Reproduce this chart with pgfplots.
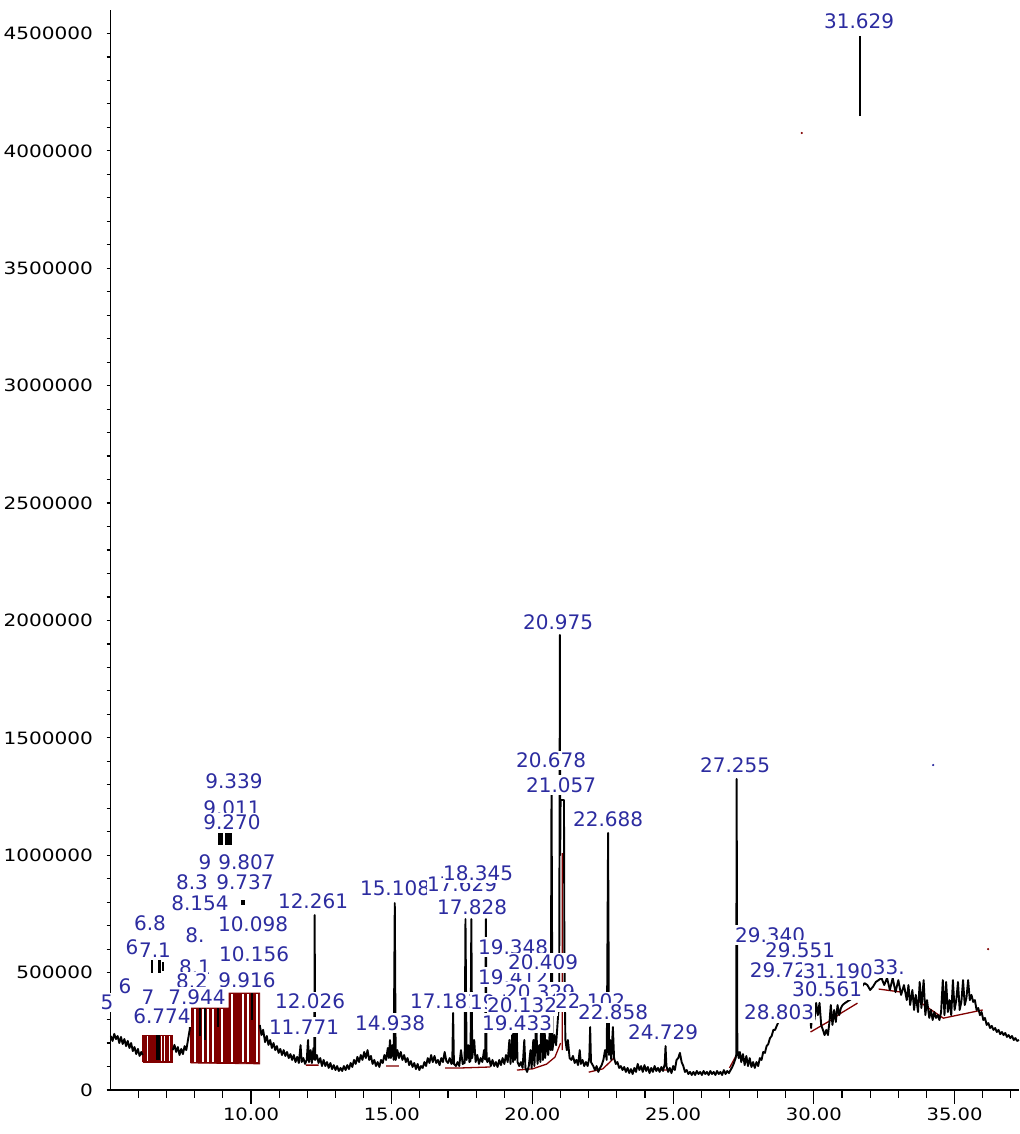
\documentclass[border=0pt]{standalone}
\usepackage{fontspec}
\setmainfont{DejaVu Sans}
\usepackage{pgfplots}
\pgfplotsset{compat=1.18}
\definecolor{peakblue}{RGB}{44,44,160}
\definecolor{intred}{RGB}{128,0,0}
\tikzset{lab/.style={fill=white, text=peakblue, inner xsep=0.5pt, inner ysep=2pt,
  text height=14.6pt, text depth=0.6pt, font=\fontsize{20}{20}\selectfont}}
\newcommand{\pk}[3]{\node[lab] at (axis cs:#1,#2) {#3};}

\begin{document}
\begin{tikzpicture}
\begin{axis}[
  name=ax, scale only axis, width=908.5pt, height=1080pt,
  xmin=5.007, xmax=37.29, ymin=0, ymax=4600000,
  axis x line=bottom, axis y line=left,
  axis line style={line width=1.6pt, -},
  clip=false, unbounded coords=jump,
  tick align=outside,
  xtick={10,15,20,25,30,35},
  minor xtick={6,7,8,9,11,12,13,14,16,17,18,19,21,22,23,24,26,27,28,29,31,32,33,34,36,37},
  ytick={0,500000,1000000,1500000,2000000,2500000,3000000,3500000,4000000,4500000},
  minor y tick num=4,
  scaled y ticks=false,
  major tick length=14pt, minor tick length=8pt,
  every major y tick/.append style={/pgfplots/major tick length=4pt},
  every minor y tick/.append style={/pgfplots/minor tick length=4pt},
  tick style={line width=1.2pt, black},
  xticklabel={\scalebox{1.15}[1]{\pgfmathprintnumber[fixed,fixed zerofill,precision=2,assume math mode=true]{\tick}}},
  yticklabel={\scalebox{1.18}[1]{\pgfmathprintnumber[fixed,precision=0,1000 sep={},assume math mode=true]{\tick}}},
  ticklabel style={font=\fontsize{17}{17}\selectfont, text=black},
]
% integrated areas
\addplot[fill=intred, draw=intred, line width=0.8pt] coordinates {
  (6.15,119000) (6.15,234000) (7.22,234000) (7.22,119000) (6.15,119000)};
\addplot[fill=intred, draw=intred, line width=0.8pt] coordinates {
  (7.85,115000) (7.85,349000) (9.22,349000) (9.22,413000) (10.31,413000) (10.31,111000) (7.85,115000)};
% peak separators
\addplot[white, line width=1.3pt] coordinates {
  (6.33,125000) (6.33,228000) (6.33,nan)
  (6.83,125000) (6.83,228000) (6.83,nan)
  (6.93,125000) (6.93,228000) (6.93,nan)
  (7.10,125000) (7.10,228000) (7.10,nan)
  (8.01,121000) (8.01,343000) (8.01,nan)
  (8.29,121000) (8.29,343000) (8.29,nan)
  (8.47,121000) (8.47,343000) (8.47,nan)
  (8.65,121000) (8.65,343000) (8.65,nan)
  (8.97,121000) (8.97,343000) (8.97,nan)
  (9.32,119000) (9.32,407000) (9.32,nan)
  (9.72,119000) (9.72,407000) (9.72,nan)
  (9.89,119000) (9.89,407000) (9.89,nan)
  (10.21,119000) (10.21,407000)};
% visible peak pieces in the crowded region
\addplot[black, line width=2.2pt] coordinates {
  (6.65,234000) (6.65,128000) (6.65,nan)
  (6.74,234000) (6.74,128000) (6.74,nan)
  (6.47,554000) (6.47,498000) (6.47,nan)
  (6.75,554000) (6.75,498000) (6.75,nan)
  (6.86,545000) (6.86,505000) (6.86,nan)
  (8.19,349000) (8.19,230000) (8.19,nan)
  (8.36,349000) (8.36,213000) (8.36,nan)
  (8.83,349000) (8.83,268000) (8.83,nan)
  (10.04,413000) (10.04,298000)};
\addplot[black, line width=5pt] coordinates {(8.93,1094000) (8.93,1043000)};
\addplot[black, line width=7pt] coordinates {(9.20,1094000) (9.20,1043000)};
\addplot[black, line width=4pt] coordinates {(9.72,809000) (9.72,790000)};
% baselines
\addplot[intred, line width=1.3pt] coordinates {
  (11.95,106000) (12.4,106000) (12.4,nan)
  (14.8,102000) (15.25,102000) (15.25,nan)
  (16.9,94000) (17.5,94000) (18.5,98000) (18.5,nan)
  (19.45,85000) (20.0,90000) (20.5,110000) (20.8,140000) (21.0,200000) (21.0,nan)
  (22.0,76000) (22.5,90000) (22.9,136000) (22.9,nan)
  (24.5,85000) (24.9,85000) (24.9,nan)
  (27.0,94000) (27.25,149000) (27.25,nan)
  (29.88,247000) (30.5,290000) (31.0,330000) (31.55,370000) (31.55,nan)
  (32.3,430000) (33.1,417000) (33.1,nan)
  (33.5,396000) (34.6,306000) (36.0,341000)};
% chromatogram
\addplot[black, line width=1.9pt, line join=round] coordinates {
(5.02,230000)(5.08,209000)(5.14,239000)(5.2,217000)(5.26,230000)(5.32,200000)(5.38,226000)(5.44,196000)(5.5,217000)(5.56,187000)(5.62,209000)(5.68,179000)(5.74,200000)(5.8,166000)(5.86,183000)(5.92,153000)(5.98,175000)(6.04,145000)(6.1,162000)(6.15,149000)};
\addplot[black, line width=1.9pt, line join=round] coordinates {
(7.22,170000)(7.28,192000)(7.34,162000)(7.4,183000)(7.46,149000)(7.52,175000)(7.58,153000)(7.64,187000)(7.7,170000)(7.76,213000)(7.82,256000)(7.85,298000)};
\addplot[black, line width=1.9pt, line join=round] coordinates {
(10.31,277000)(10.37,234000)(10.43,256000)(10.5,204000)(10.56,230000)(10.62,192000)(10.68,213000)(10.74,179000)(10.8,200000)(10.86,170000)(10.92,187000)(10.98,158000)(11.04,175000)(11.1,149000)(11.16,170000)(11.22,145000)(11.28,162000)(11.34,136000)(11.4,153000)(11.46,128000)(11.52,149000)(11.58,119000)(11.64,141000)(11.7,115000)(11.76,191000)(11.8,119000)(11.86,136000)(11.92,111000)(11.98,128000)(12.026,213000)(12.06,119000)(12.12,170000)(12.16,115000)(12.22,179000)(12.25,130000)(12.261,745000)(12.28,128000)(12.34,149000)(12.4,115000)(12.46,136000)(12.52,102000)(12.58,128000)(12.64,102000)(12.7,119000)(12.76,94000)(12.82,115000)(12.88,89000)(12.94,106000)(13.0,85000)(13.06,102000)(13.12,81000)(13.18,94000)(13.24,81000)(13.3,102000)(13.36,85000)(13.42,106000)(13.48,89000)(13.54,115000)(13.6,98000)(13.66,128000)(13.72,111000)(13.78,141000)(13.84,119000)(13.9,149000)(13.96,128000)(14.02,162000)(14.08,136000)(14.14,170000)(14.2,128000)(14.26,145000)(14.32,111000)(14.38,128000)(14.44,102000)(14.5,119000)(14.56,98000)(14.62,128000)(14.68,115000)(14.74,149000)(14.8,128000)(14.86,179000)(14.9,136000)(14.938,213000)(14.97,136000)(15.02,191000)(15.07,128000)(15.108,796000)(15.14,128000)(15.2,170000)(15.26,136000)(15.32,162000)(15.38,128000)(15.44,149000)(15.5,119000)(15.56,136000)(15.62,106000)(15.68,123000)(15.74,98000)(15.8,115000)(15.86,89000)(15.92,111000)(15.98,85000)(16.04,102000)(16.1,94000)(16.16,119000)(16.22,102000)(16.28,136000)(16.34,115000)(16.4,149000)(16.46,119000)(16.52,145000)(16.58,115000)(16.64,128000)(16.7,106000)(16.76,136000)(16.82,119000)(16.88,162000)(16.94,123000)(17.0,115000)(17.06,136000)(17.12,111000)(17.15,115000)(17.181,328000)(17.21,111000)(17.28,102000)(17.34,119000)(17.4,102000)(17.46,170000)(17.52,111000)(17.59,115000)(17.62,728000)(17.66,128000)(17.72,191000)(17.76,119000)(17.8,125000)(17.828,728000)(17.86,136000)(17.93,213000)(17.98,119000)(18.04,149000)(18.1,111000)(18.16,136000)(18.22,119000)(18.28,170000)(18.32,130000)(18.345,728000)(18.37,130000)(18.4,119000)(18.46,136000)(18.52,102000)(18.58,128000)(18.64,102000)(18.7,119000)(18.76,98000)(18.82,128000)(18.88,106000)(18.94,136000)(19.0,111000)(19.06,149000)(19.12,119000)(19.18,213000)(19.22,111000)(19.28,234000)(19.31,119000)(19.348,554000)(19.38,128000)(19.433,298000)(19.47,119000)(19.53,102000)(19.59,119000)(19.65,94000)(19.71,213000)(19.75,94000)(19.81,77000)(19.87,102000)(19.93,170000)(19.97,94000)(20.03,213000)(20.07,102000)(20.132,298000)(20.18,111000)(20.24,191000)(20.28,119000)(20.329,383000)(20.37,128000)(20.409,490000)(20.45,136000)(20.51,213000)(20.56,149000)(20.62,256000)(20.65,170000)(20.678,1330000)(20.71,170000)(20.78,234000)(20.84,191000)(20.9,298000)(20.95,383000)(20.975,1938000)(20.985,1000000)(21.0,1235000)(21.12,1235000)(21.135,554000)(21.17,213000)(21.22,170000)(21.26,213000)(21.32,136000)(21.38,128000)(21.44,145000)(21.5,115000)(21.56,128000)(21.62,106000)(21.68,170000)(21.72,111000)(21.78,128000)(21.84,102000)(21.9,119000)(21.96,102000)(22.02,136000)(22.05,268000)(22.08,119000)(22.16,102000)(22.22,85000)(22.28,102000)(22.34,77000)(22.4,94000)(22.46,106000)(22.52,128000)(22.58,170000)(22.64,128000)(22.688,1095000)(22.72,149000)(22.76,213000)(22.8,128000)(22.858,268000)(22.9,136000)(22.96,111000)(23.02,119000)(23.08,94000)(23.14,102000)(23.2,85000)(23.26,98000)(23.32,77000)(23.38,94000)(23.44,72000)(23.5,89000)(23.56,68000)(23.62,94000)(23.68,77000)(23.74,111000)(23.8,85000)(23.86,102000)(23.92,77000)(23.98,106000)(24.04,81000)(24.1,98000)(24.16,72000)(24.22,94000)(24.28,77000)(24.34,102000)(24.4,81000)(24.46,94000)(24.52,77000)(24.58,98000)(24.64,81000)(24.7,111000)(24.729,187000)(24.76,102000)(24.82,77000)(24.88,94000)(24.94,72000)(25.0,102000)(25.06,85000)(25.12,128000)(25.18,136000)(25.24,158000)(25.3,119000)(25.36,102000)(25.42,77000)(25.48,85000)(25.54,68000)(25.6,77000)(25.66,64000)(25.72,77000)(25.78,64000)(25.84,81000)(25.9,68000)(25.96,77000)(26.02,64000)(26.08,81000)(26.14,68000)(26.2,77000)(26.26,64000)(26.32,81000)(26.38,68000)(26.44,77000)(26.5,64000)(26.56,81000)(26.62,68000)(26.68,77000)(26.74,64000)(26.8,85000)(26.86,68000)(26.92,81000)(26.98,72000)(27.04,85000)(27.1,98000)(27.16,115000)(27.22,136000)(27.24,150000)(27.255,1325000)(27.28,170000)(27.33,136000)(27.37,162000)(27.42,119000)(27.48,153000)(27.54,106000)(27.6,145000)(27.66,102000)(27.72,136000)(27.78,98000)(27.84,119000)(27.9,94000)(27.96,119000)(28.02,102000)(28.08,136000)(28.14,128000)(28.2,162000)(28.26,158000)(28.32,187000)(28.38,196000)(28.44,221000)(28.5,230000)(28.56,256000)(28.62,256000)(28.68,273000)(28.74,290000)(28.8,300000)(28.9,305000)(29.0,312000)(29.1,318000)(29.2,322000)(29.3,326000)(29.4,330000)(29.5,332000)(29.6,334000)(29.7,334000)(29.8,336000)(29.86,341000)(29.9,264000)(29.96,362000)(30.02,298000)(30.08,371000)(30.14,319000)(30.2,371000)(30.26,277000)(30.32,256000)(30.38,234000)(30.44,256000)(30.5,234000)(30.56,298000)(30.6,362000)(30.66,277000)(30.72,341000)(30.78,290000)(30.84,362000)(30.9,319000)(30.96,349000)(31.02,362000)(31.1,370000)(31.2,378000)(31.3,385000)(31.4,395000)(31.5,405000)(31.6,420000)(31.7,440000)(31.8,455000)(31.9,447000)(32.0,426000)(32.1,440000)(32.2,460000)(32.3,468000)(32.4,477000)(32.5,447000)(32.6,477000)(32.7,426000)(32.8,477000)(32.9,417000)(33.0,468000)(33.1,405000)(33.2,447000)(33.3,383000)(33.36,447000)(33.42,362000)(33.5,426000)(33.56,341000)(33.62,405000)(33.7,332000)(33.76,460000)(33.82,349000)(33.9,468000)(33.96,319000)(34.02,383000)(34.1,307000)(34.16,341000)(34.22,298000)(34.28,332000)(34.34,307000)(34.4,319000)(34.46,298000)(34.52,332000)(34.58,468000)(34.64,319000)(34.7,460000)(34.76,332000)(34.82,383000)(34.88,319000)(34.94,468000)(35.0,341000)(35.06,383000)(35.12,460000)(35.18,341000)(35.24,375000)(35.3,468000)(35.36,362000)(35.42,392000)(35.48,468000)(35.54,383000)(35.6,405000)(35.66,375000)(35.72,383000)(35.78,341000)(35.84,349000)(35.9,319000)(35.96,332000)(36.02,298000)(36.08,307000)(36.14,277000)(36.2,285000)(36.26,264000)(36.32,273000)(36.38,256000)(36.44,264000)(36.5,247000)(36.56,256000)(36.62,238000)(36.68,247000)(36.74,234000)(36.8,243000)(36.86,226000)(36.92,234000)(36.98,221000)(37.04,230000)(37.1,213000)(37.16,221000)(37.22,209000)(37.29,213000)};
% red core of the 21.057 peak
\addplot[fill=intred, draw=none] coordinates {
  (21.04,170000) (21.04,1009000) (21.08,1009000) (21.08,170000) (21.04,170000)};
% top of the 31.629 peak
\addplot[black, line width=1.8pt] coordinates {(31.629,4148000) (31.629,4489000)};
% stray dots
\addplot[only marks, mark=*, mark size=0.9pt, intred] coordinates {(29.57,4076000) (36.19,600000)};
\addplot[only marks, mark=*, mark size=0.9pt, peakblue] coordinates {(34.24,1384000)};

% peak labels
\pk{9.325}{1201000}{9.011}
\pk{9.396}{1312000}{9.339}
\pk{9.325}{1141000}{9.270}
\pk{8.365}{971000}{9}
\pk{9.858}{971000}{9.807}
\pk{7.903}{882000}{8.3}
\pk{8.188}{796000}{8.154}
\pk{9.787}{882000}{9.737}
\pk{6.411}{711000}{6.8}
\pk{8.010}{660000}{8.}
\pk{10.071}{703000}{10.098}
\pk{5.771}{609000}{6}
\pk{6.588}{596000}{7.1}
\pk{10.107}{575000}{10.156}
\pk{8.010}{520000}{8.1}
\pk{7.903}{460000}{8.2}
\pk{9.858}{468000}{9.916}
\pk{5.522}{439000}{6}
\pk{4.883}{371000}{5}
\pk{6.340}{392000}{7}
\pk{8.081}{396000}{7.944}
\pk{6.837}{311000}{6.774}
\pk{12.203}{801000}{12.261}
\pk{12.097}{375000}{12.026}
\pk{11.883}{268000}{11.771}
\pk{15.117}{860000}{15.108}
\pk{14.940}{285000}{14.938}
\pk{17.498}{877000}{17.629}
\pk{18.067}{924000}{18.345}
\pk{17.853}{779000}{17.828}
\pk{16.894}{375000}{17.181}
\pk{19.311}{609000}{19.348}
\pk{19.311}{481000}{19.412}
\pk{20.377}{541000}{20.409}
\pk{19.026}{371000}{19.712}
\pk{20.270}{417000}{20.329}
\pk{19.631}{358000}{20.132}
\pk{19.453}{285000}{19.433}
\pk{22.047}{375000}{22.102}
\pk{22.864}{328000}{22.858}
\pk{24.641}{247000}{24.729}
\pk{20.661}{1405000}{20.678}
\pk{21.016}{1299000}{21.057}
\pk{20.910}{1993000}{20.975}
\pk{22.687}{1150000}{22.688}
\pk{27.200}{1384000}{27.255}
\pk{28.444}{660000}{29.340}
\pk{29.510}{596000}{29.551}
\pk{28.970}{511000}{29.722}
\pk{30.855}{503000}{31.190}
\node[lab, anchor=west] at (axis cs:32.07,520000) {33.};
\pk{30.469}{426000}{30.561}
\pk{28.763}{328000}{28.803}
\pk{31.606}{4549000}{31.629}
\end{axis}
\pgfresetboundingbox
\path ([xshift=-110.5pt,yshift=-44pt]ax.south west) rectangle ([yshift=10pt]ax.north east);
\end{tikzpicture}
\end{document}
